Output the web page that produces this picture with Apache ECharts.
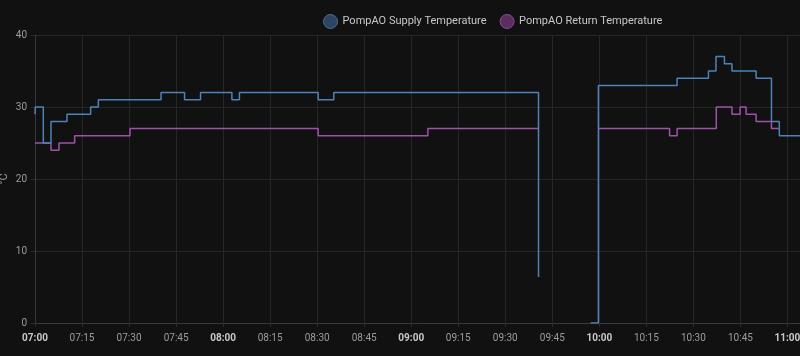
<!DOCTYPE html>
<html>
<head>
<meta charset="utf-8">
<script src="https://cdn.jsdelivr.net/npm/echarts@6/dist/echarts.min.js"></script>
<style>
html,body{margin:0;padding:0;background:#111111;}
#c{width:800px;height:356px;}
</style>
</head>
<body>
<div id="c"></div>
<script>
const seriesNames = ['PompAO Supply Temperature', 'PompAO Return Temperature'];
const yTicks = [0, 10, 20, 30, 40];

const supplyTimes = ['07:00:00','07:00:06','07:02:39','07:05:06','07:10:12','07:17:45','07:20:12','07:40:12','07:47:42','07:52:48','08:02:48','08:05:12','08:30:18','08:35:18','09:40:36','09:40:37','09:57:12','09:59:42','10:24:48','10:34:48','10:37:12','10:39:54','10:42:18','10:50:00','10:54:54','10:57:24','11:04:00'];
const supplyValues = [29,30,25,28,29,30,31,32,31,32,31,32,31,32,6.4,null,0,33,34,35,37,36,35,34,28,26,26];

const returnTimes = ['07:00:00','07:05:06','07:07:39','07:12:39','07:30:18','08:30:18','09:05:18','09:40:36','09:40:37','09:59:42','10:22:24','10:24:48','10:37:18','10:42:18','10:44:54','10:46:48','10:50:00','10:54:54','10:57:24'];
const returnValues = [25,24,25,26,27,26,27,27,null,27,26,27,30,29,30,29,28,27,27];

const axisStart = '07:00:00';
const axisEnd = '11:04:00';
const tickMinutes = 15;

// x values are minutes since midnight
function m(s){
  const p = s.split(':').map(Number);
  return p[0]*60 + p[1] + (p[2]||0)/60;
}
function pairs(times, vals){
  return times.map((s,i)=>[m(s), vals[i] === null ? '-' : vals[i]]);
}
function pad(n){return (n<10?'0':'')+n;}

const blue = '#4f82b8';
const purple = '#a052ab';
const font = 'Roboto, Inter, sans-serif';

const chart = echarts.init(document.getElementById('c'), null, {renderer:'canvas'});
chart.setOption({
  backgroundColor: '#111111',
  animation: false,
  legend: {
    top: 9,
    left: 318,
    itemWidth: 14,
    itemHeight: 14,
    itemGap: 13,
    icon: 'circle',
    textStyle: {color: '#c8c8cc', fontSize: 11, fontFamily: font},
    data: [
      {name: seriesNames[0], itemStyle: {color: '#2c4662', borderColor: '#4a6d93', borderWidth: 1}},
      {name: seriesNames[1], itemStyle: {color: '#5a2e61', borderColor: '#8c4896', borderWidth: 1}}
    ]
  },
  grid: {left: 35, right: 0, top: 35, bottom: 33, containLabel: false, outerBoundsMode: 'none'},
  xAxis: {
    type: 'value',
    min: m(axisStart),
    max: m(axisEnd),
    interval: tickMinutes,
    axisLine: {show: true, onZero: false, lineStyle: {color: '#3a3a3e', width: 1}},
    axisTick: {show: true, length: 4, lineStyle: {color: '#2a2a2e'}},
    splitLine: {show: true, lineStyle: {color: '#262628', width: 1}},
    axisLabel: {
      color: '#9c9ca2',
      fontSize: 10,
      fontFamily: font,
      margin: 10,
      hideOverlap: false,
      showMinLabel: true,
      showMaxLabel: false,
      formatter: function(v){
        const h = Math.floor(v/60), mm = Math.round(v - h*60);
        const s = pad(h)+':'+pad(mm);
        return mm===0 ? '{b|'+s+'}' : s;
      },
      rich: {b: {fontWeight: 'bold', color: '#c8c8cc', fontSize: 10, fontFamily: font}}
    }
  },
  yAxis: {
    type: 'value',
    min: yTicks[0],
    max: yTicks[yTicks.length-1],
    interval: 10,
    name: '°C',
    nameLocation: 'middle',
    nameGap: 25,
    nameRotate: 90,
    nameMoveOverlap: false,
    nameTextStyle: {color: '#9c9ca2', fontSize: 11, fontFamily: font},
    axisLine: {show: true, lineStyle: {color: '#3a3a3e'}},
    axisTick: {show: true, length: 4, lineStyle: {color: '#2a2a2e'}},
    splitLine: {show: true, lineStyle: {color: '#262628', width: 1}},
    axisLabel: {color: '#9c9ca2', fontSize: 10, fontFamily: font, margin: 8}
  },
  series: [
    {
      name: seriesNames[1],
      type: 'line',
      step: 'end',
      showSymbol: false,
      connectNulls: false,
      lineStyle: {color: purple, width: 1.5},
      itemStyle: {color: purple},
      data: pairs(returnTimes, returnValues),
      z: 2
    },
    {
      name: seriesNames[0],
      type: 'line',
      step: 'end',
      showSymbol: false,
      connectNulls: false,
      lineStyle: {color: blue, width: 1.5},
      itemStyle: {color: blue},
      data: pairs(supplyTimes, supplyValues),
      z: 3
    }
  ]
});
</script>
</body>
</html>
